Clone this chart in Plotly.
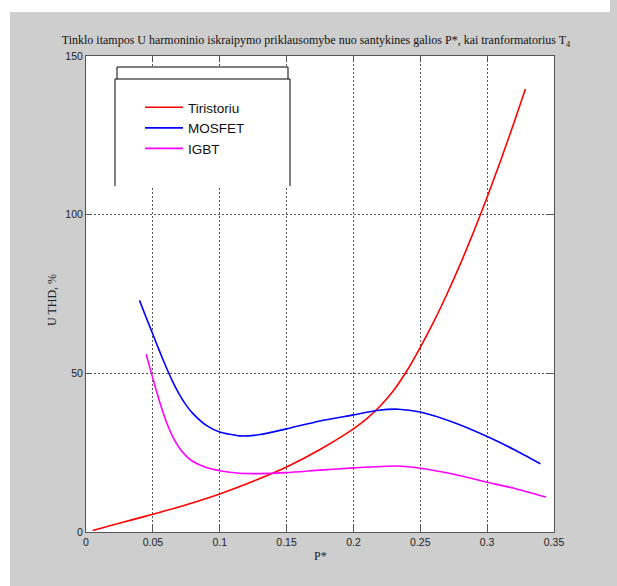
import plotly.graph_objects as go

# ---------------- data ----------------
tir_x = [0.005, 0.02, 0.035, 0.05, 0.075, 0.1, 0.125, 0.15, 0.175, 0.2, 0.21,
         0.22, 0.23, 0.24, 0.25, 0.26, 0.27, 0.28, 0.29, 0.3, 0.31, 0.32, 0.3286]
tir_y = [0.5, 2.2, 3.9, 5.6, 8.6, 12.0, 16.0, 20.5, 26.0, 32.5, 35.7,
         39.7, 44.6, 50.8, 58.2, 66.2, 75.0, 84.5, 94.7, 105.5, 116.9, 128.9, 139.6]

mos_x = [0.040, 0.045, 0.05, 0.055, 0.06, 0.065, 0.07, 0.075, 0.08, 0.09, 0.1,
         0.115, 0.13, 0.15, 0.175, 0.2, 0.2176, 0.2336, 0.25, 0.275, 0.3, 0.32, 0.3398]
mos_y = [73.0, 67.6, 62.3, 57.0, 51.9, 47.2, 43.2, 39.9, 37.3, 33.6, 31.5,
         30.3, 30.7, 32.5, 35.0, 36.9, 38.3, 38.7, 37.8, 34.5, 30.1, 26.0, 21.5]

igbt_x = [0.045, 0.0475, 0.05, 0.0525, 0.055, 0.0575, 0.06, 0.065, 0.07, 0.075,
          0.08, 0.09, 0.1, 0.115, 0.13, 0.15, 0.175, 0.2, 0.2326, 0.25, 0.275,
          0.3, 0.32, 0.344]
igbt_y = [56.0, 52.2, 48.4, 44.7, 41.1, 37.8, 34.8, 29.9, 26.4, 23.9,
          22.2, 20.3, 19.3, 18.5, 18.4, 18.7, 19.5, 20.2, 20.8, 20.1, 18.2,
          15.7, 13.8, 11.0]

series_names = ["Tiristoriu", "MOSFET", "IGBT"]
x_ticks = [0, 0.05, 0.1, 0.15, 0.2, 0.25, 0.3, 0.35]
x_tick_text = ["0", "0.05", "0.1", "0.15", "0.2", "0.25", "0.3", "0.35"]
y_ticks = [0, 50, 100, 150]

title_text = ("Tinklo itampos U harmoninio iskraipymo priklausomybe nuo santykines "
              "galios P*, kai tranformatorius T<sub>4</sub>")

# ---------------- layout geometry ----------------
W, H = 617, 586
L, R, T, B = 86, 63, 56, 54
PW, PH = W - L - R, H - T - B

def px(xp):
    return (xp - L) / PW

def py(yp):
    return (H - B - yp) / PH

fig = go.Figure()
colors = ["#ff0000", "#0000ff", "#ff00ff"]
for name, xs, ys, c in zip(series_names, [tir_x, mos_x, igbt_x],
                           [tir_y, mos_y, igbt_y], colors):
    fig.add_trace(go.Scatter(x=xs, y=ys, mode="lines", name=name,
                             line=dict(color=c, width=1.6, shape="spline", smoothing=0.6)))

axis_common = dict(
    showline=True, linecolor="#555", linewidth=1, mirror="ticks",
    ticks="inside", ticklen=6, tickcolor="#555",
    showgrid=True, gridcolor="#555", gridwidth=1, griddash="2px,2px",
    zeroline=False,
    tickfont=dict(family="Liberation Sans, Arial, sans-serif", size=10.5, color="#222"),
)

fig.update_xaxes(range=[0, 0.35], tickvals=x_ticks, ticktext=x_tick_text, **axis_common)
fig.update_yaxes(range=[0, 150], tickvals=y_ticks, **axis_common)

shapes = [
    # white strips at figure edges
    dict(type="rect", xref="paper", yref="paper", x0=px(0), x1=px(10), y0=py(H), y1=py(0),
         fillcolor="white", line=dict(width=0), layer="above"),
    dict(type="rect", xref="paper", yref="paper", x0=px(10), x1=px(610), y0=py(12), y1=py(0),
         fillcolor="white", line=dict(width=0), layer="above"),
    # legend box background (hides grid)
    dict(type="rect", xref="paper", yref="paper", x0=px(115), x1=px(290), y0=py(186), y1=py(67),
         fillcolor="white", line=dict(width=0), layer="above"),
    # small upper box
    dict(type="path", xref="paper", yref="paper",
         path=f"M {px(117)},{py(79)} L {px(117)},{py(67)} L {px(288)},{py(67)} L {px(288)},{py(79)}",
         line=dict(color="black", width=1), layer="above"),
    # main legend frame (no bottom edge)
    dict(type="path", xref="paper", yref="paper",
         path=f"M {px(115)},{py(186)} L {px(115)},{py(79)} L {px(290)},{py(79)} L {px(290)},{py(186)}",
         line=dict(color="black", width=1), layer="above"),
]

annotations = [
    dict(text="P*", xref="paper", yref="paper", x=px(320), y=py(556), showarrow=False,
         xanchor="center", yanchor="middle",
         font=dict(family="Liberation Serif, Times New Roman, serif", size=12, color="#222")),
    dict(text="U THD, %", xref="paper", yref="paper", x=px(52), y=py(300), showarrow=False,
         textangle=-90, xanchor="center", yanchor="middle",
         font=dict(family="Liberation Serif, Times New Roman, serif", size=12, color="#222")),
]

fig.update_layout(
    width=W, height=H,
    margin=dict(l=L, r=R, t=T, b=B, pad=0),
    paper_bgcolor="#cecece", plot_bgcolor="white",
    title=dict(text=title_text, x=px(316), xref="paper", xanchor="center",
               y=1 - 40 / H, yref="container", yanchor="middle",
               font=dict(family="Liberation Serif, Times New Roman, serif", size=12, color="#111")),
    showlegend=True,
    legend=dict(x=px(140), y=py(92), xanchor="left", yanchor="top",
                bgcolor="rgba(0,0,0,0)", borderwidth=0,
                font=dict(family="Liberation Sans, Arial, sans-serif", size=13.5, color="#111"),
                itemwidth=38),
    shapes=shapes,
    annotations=annotations,
)

fig.write_html("out.html")
